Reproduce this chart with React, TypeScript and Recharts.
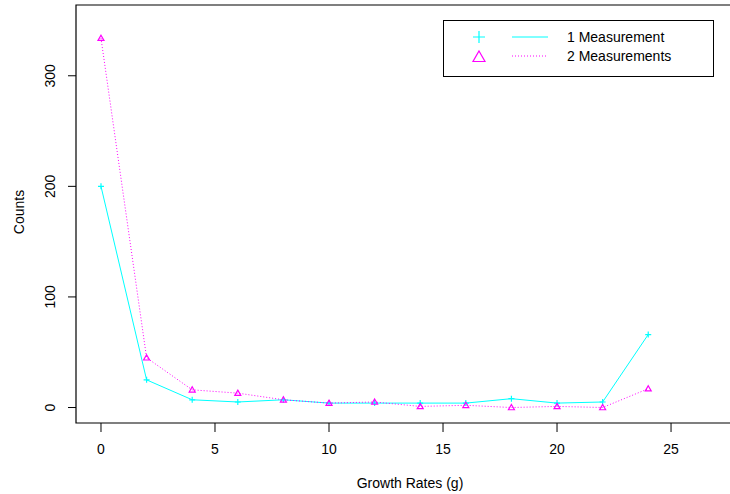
import { Line, LineChart, ReferenceArea, XAxis, YAxis } from 'recharts';

const growthRates = [0, 2, 4, 6, 8, 10, 12, 14, 16, 18, 20, 22, 24];
const oneMeasurement = [200, 25, 7, 5, 7, 4, 4, 4, 4, 8, 4, 5, 66];
const twoMeasurements = [334, 45, 16, 13, 7, 4, 5, 1, 2, 0, 1, 0, 17];
const xTicks = [0, 5, 10, 15, 20, 25];
const yTicks = [0, 100, 200, 300];
const seriesNames = ['1 Measurement', '2 Measurements'];

const data = growthRates.map((g, i) => ({ g, one: oneMeasurement[i], two: twoMeasurements[i] }));

const X_DOMAIN: [number, number] = [-1.096, 28.2];
const Y_DOMAIN: [number, number] = [-14, 364];
const font = '"Liberation Sans", Arial, sans-serif';
const CYAN = '#00FFFF';
const MAGENTA = '#FF00FF';

function Plus({ cx, cy, r = 4 }: { cx?: number; cy?: number; r?: number }) {
  if (cx == null || cy == null) return null;
  return <path d={`M${cx - r},${cy}H${cx + r}M${cx},${cy - r}V${cy + r}`} stroke={CYAN} strokeWidth={1.2} fill="none" />;
}

function Triangle({ cx, cy, r = 4 }: { cx?: number; cy?: number; r?: number }) {
  if (cx == null || cy == null) return null;
  return (
    <path
      d={`M${cx},${cy - r}L${cx + r},${cy + r * 0.75}L${cx - r},${cy + r * 0.75}Z`}
      stroke={MAGENTA}
      strokeWidth={1.2}
      fill="none"
    />
  );
}

const XTick = ({ x, payload }: any) => (
  <text x={x} y={454} textAnchor="middle" fontSize={14} fontFamily={font} fill="#000">
    {payload.value}
  </text>
);

const YTick = ({ y, payload }: any) => (
  <text x={55} y={y} transform={`rotate(-90 55 ${y})`} textAnchor="middle" fontSize={14} fontFamily={font} fill="#000">
    {payload.value}
  </text>
);

function LegendBox() {
  return (
    <svg width={272} height={58} style={{ position: 'absolute', left: 443, top: 20 }}>
      <rect x={0.5} y={0.5} width={270} height={56} fill="#fff" stroke="#000" />
      <Plus cx={36} cy={17} r={6} />
      <Triangle cx={36} cy={37} r={6} />
      <line x1={69} x2={105} y1={17} y2={17} stroke={CYAN} />
      <line x1={69} x2={105} y1={36} y2={36} stroke={MAGENTA} strokeDasharray="1 2" />
      <text x={124} y={22} fontSize={14} fontFamily={font} fill="#000">{seriesNames[0]}</text>
      <text x={124} y={41} fontSize={14} fontFamily={font} fill="#000">{seriesNames[1]}</text>
    </svg>
  );
}

export default function App() {
  return (
    <div style={{ position: 'absolute', left: 0, top: 0, width: 730, height: 494, overflow: 'hidden', background: '#fff' }}>
      <LineChart width={760} height={494} data={data} margin={{ top: 5, right: 16, left: 0, bottom: 0 }}>
        <XAxis
          dataKey="g"
          type="number"
          domain={X_DOMAIN}
          allowDataOverflow
          ticks={xTicks}
          axisLine={false}
          tickSize={9}
          tickLine={{ stroke: '#000' }}
          tick={<XTick />}
          height={71}
          label={() => (
            <text x={410} y={488} textAnchor="middle" fontSize={14} fontFamily={font} fill="#000">
              Growth Rates (g)
            </text>
          )}
        />
        <YAxis
          type="number"
          domain={Y_DOMAIN}
          allowDataOverflow
          ticks={yTicks}
          axisLine={false}
          tickSize={8}
          tickLine={{ stroke: '#000' }}
          tick={<YTick />}
          width={76}
          label={() => (
            <text x={24} y={212} transform="rotate(-90 24 212)" textAnchor="middle" fontSize={14} fontFamily={font} fill="#000">
              Counts
            </text>
          )}
        />
        <ReferenceArea x1={X_DOMAIN[0]} x2={X_DOMAIN[1]} y1={Y_DOMAIN[0]} y2={Y_DOMAIN[1]} fill="none" stroke="#000" strokeWidth={1.2} fillOpacity={0} />
        <Line dataKey="one" stroke={CYAN} strokeWidth={1} dot={<Plus />} activeDot={false} isAnimationActive={false} />
        <Line dataKey="two" stroke={MAGENTA} strokeWidth={1} strokeDasharray="1 2" dot={<Triangle />} activeDot={false} isAnimationActive={false} />
      </LineChart>
      <LegendBox />
    </div>
  );
}
